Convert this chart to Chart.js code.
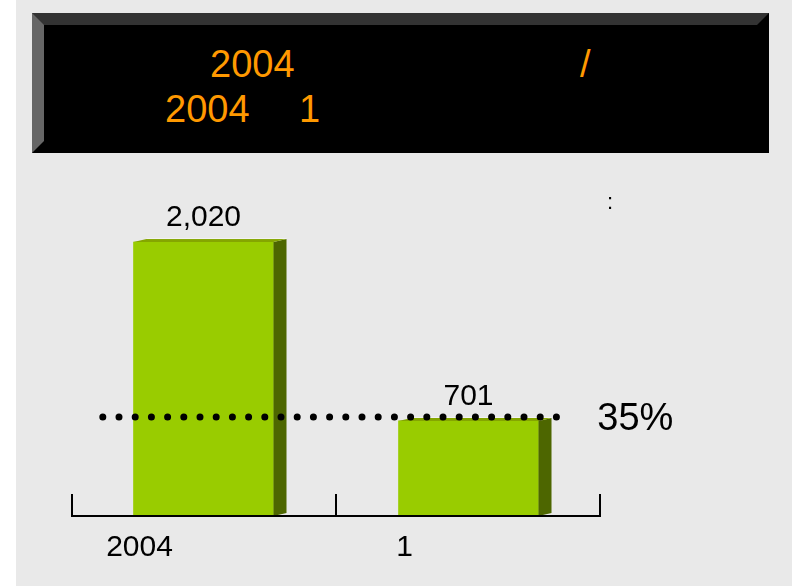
<!DOCTYPE html>
<html>
<head>
<meta charset="utf-8">
<script src="https://cdn.jsdelivr.net/npm/chart.js@4.4.0/dist/chart.umd.min.js"></script>
<style>
  body { margin: 0; background: #fff; }
  #wrap { position: relative; width: 792px; height: 587px; overflow: hidden; }
  #bg { position: absolute; left: 16px; top: 0; width: 776px; height: 586px; background: #e9e9e9; }
  #chart { position: absolute; left: 0; top: 0; }
  #titlebox {
    position: absolute; left: 32px; top: 13px; width: 713px; height: 116px; background: #000;
    border-top: 12px solid #333; border-left: 12px solid #666;
    border-right: 12px solid #000; border-bottom: 12px solid #000;
  }
  .t { position: absolute; font: 38px "Liberation Sans", Arial, sans-serif; line-height: 38px; color: #ff9900; white-space: pre; }
</style>
</head>
<body>
<div id="wrap">
  <div id="bg"></div>
  <div id="titlebox"></div>
  <span class="t" style="left:210px; top:45px;">2004</span>
  <span class="t" style="left:580px; top:45px;">/</span>
  <span class="t" style="left:165px; top:90px;">2004</span>
  <span class="t" style="left:299px; top:90px;">1</span>
  <canvas id="chart" width="792" height="587"></canvas>
</div>
<script>
// datos
const categories = ["2004", "1"];
const values = [2020, 701];
const refLevel = 730; // linea punteada (35%)
const refLabel = "35%";
const unitNote = ":";

const FONT = '"Liberation Sans", Arial, sans-serif';

const deco = {
  id: "deco",
  // caras laterales y superiores de las barras (efecto 3D)
  afterDatasetDraw(chart, args) {
    if (args.index !== 0) return;
    const ctx = chart.ctx;
    const dx = 13, dy = 3;
    args.meta.data.forEach((el) => {
      const { x, y, base, width } = el.getProps(["x", "y", "base", "width"], true);
      const l = x - width / 2, r = x + width / 2;
      ctx.save();
      ctx.fillStyle = "#4d6600";
      ctx.beginPath();
      ctx.moveTo(r, y);
      ctx.lineTo(r + dx, y - dy);
      ctx.lineTo(r + dx, base - dy);
      ctx.lineTo(r, base);
      ctx.closePath();
      ctx.fill();
      ctx.fillStyle = "#85a600";
      ctx.beginPath();
      ctx.moveTo(l, y);
      ctx.lineTo(l + dx, y - dy);
      ctx.lineTo(r + dx, y - dy);
      ctx.lineTo(r, y);
      ctx.closePath();
      ctx.fill();
      ctx.strokeStyle = "rgba(255,255,255,0.5)";
      ctx.lineWidth = 1;
      ctx.beginPath();
      ctx.moveTo(l + dx, y - dy - 0.5);
      ctx.lineTo(r + dx, y - dy - 0.5);
      ctx.stroke();
      ctx.restore();
    });
  },
  afterDraw(chart) {
    const ctx = chart.ctx;
    const xs = chart.scales.x, ys = chart.scales.y, x2 = chart.scales.x2;
    const y0 = ys.getPixelForValue(0);
    ctx.save();
    // eje y marcas
    ctx.strokeStyle = "#000";
    ctx.lineWidth = 2;
    ctx.beginPath();
    ctx.moveTo(xs.left, y0);
    ctx.lineTo(xs.right, y0);
    const mid = (xs.getPixelForValue(0) + xs.getPixelForValue(1)) / 2;
    [xs.left + 1, mid, xs.right - 1].forEach((px) => {
      ctx.moveTo(px, y0);
      ctx.lineTo(px, y0 - 22);
    });
    ctx.stroke();

    // etiquetas de valores
    ctx.fillStyle = "#000";
    ctx.font = "30px " + FONT;
    ctx.textAlign = "center";
    ctx.textBaseline = "alphabetic";
    chart.getDatasetMeta(0).data.forEach((el, i) => {
      ctx.fillText(values[i].toLocaleString("en-US"), el.x, el.y - 16);
    });

    // texto 35%
    const ly = ys.getPixelForValue(refLevel);
    ctx.font = "38px " + FONT;
    ctx.textAlign = "left";
    ctx.fillText(refLabel, x2.getPixelForValue(1.35) + 36, ly + 13);

    // nota de unidad
    ctx.font = "22px " + FONT;
    ctx.fillText(unitNote, 607, 209);
    ctx.restore();
  }
};

const chart = new Chart(document.getElementById("chart"), {
  data: {
    labels: categories,
    datasets: [
      {
        type: "bar",
        data: values,
        backgroundColor: "#99cc00",
        barThickness: 140,
        grouped: false,
        order: 2,
        xAxisID: "x",
        yAxisID: "y"
      },
      {
        type: "line",
        data: [{ x: -0.38, y: refLevel }, { x: 1.35, y: refLevel }],
        xAxisID: "x2",
        yAxisID: "y",
        borderColor: "#000",
        borderWidth: 7,
        borderDash: [0, 16.2],
        borderCapStyle: "round",
        pointRadius: 0,
        fill: false,
        order: 1
      }
    ]
  },
  options: {
    responsive: false,
    animation: false,
    devicePixelRatio: 1,
    layout: { padding: { left: 71, right: 191, top: 177, bottom: 7 } },
    plugins: { legend: { display: false }, tooltip: { enabled: false } },
    scales: {
      x: {
        type: "category",
        offset: true,
        grid: { display: false, drawTicks: false },
        border: { display: false },
        ticks: { font: { family: FONT, size: 30 }, color: "#000", padding: 14, labelOffset: -64 }
      },
      x2: { type: "linear", display: false, min: -0.5, max: 1.5 },
      y: { display: false, min: 0, max: 2500 }
    }
  },
  plugins: [deco]
});
</script>
</body>
</html>
